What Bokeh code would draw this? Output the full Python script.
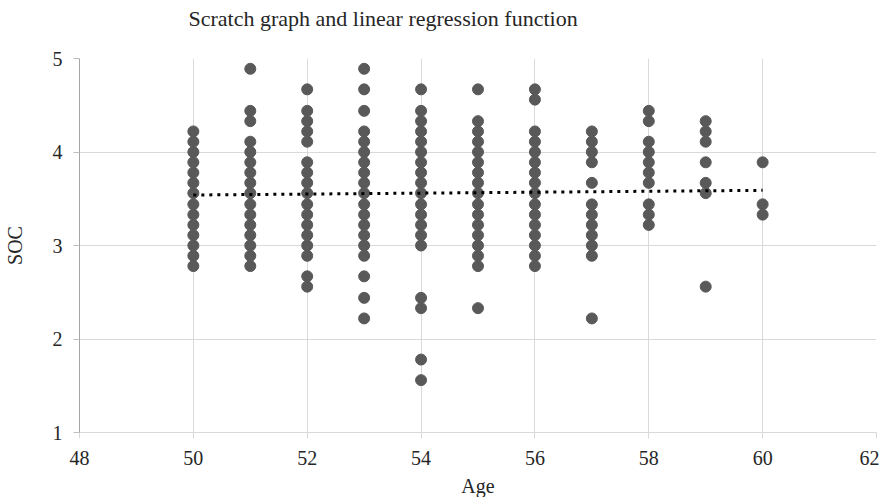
from bokeh.plotting import figure
from bokeh.models import SingleIntervalTicker, ColumnDataSource
from bokeh.embed import file_html
from bokeh.resources import INLINE

# ---- data ----
age_50 = [4.22, 4.11, 4.00, 3.89, 3.78, 3.67, 3.56, 3.44, 3.33, 3.22, 3.11, 3.00, 2.89, 2.78]
age_51 = [4.89, 4.44, 4.33, 4.11, 4.00, 3.89, 3.78, 3.67, 3.56, 3.44, 3.33, 3.22, 3.11, 3.00, 2.89, 2.78]
age_52 = [4.67, 4.44, 4.33, 4.22, 4.11, 3.89, 3.78, 3.67, 3.56, 3.44, 3.33, 3.22, 3.11, 3.00, 2.89, 2.67, 2.56]
age_53 = [4.89, 4.67, 4.44, 4.22, 4.11, 4.00, 3.89, 3.78, 3.67, 3.56, 3.44, 3.33, 3.22, 3.11, 3.00, 2.89,
          2.67, 2.44, 2.22]
age_54 = [4.67, 4.44, 4.33, 4.22, 4.11, 4.00, 3.89, 3.78, 3.67, 3.56, 3.44, 3.33, 3.22, 3.11, 3.00,
          2.44, 2.33, 1.78, 1.56]
age_55 = [4.67, 4.33, 4.22, 4.11, 4.00, 3.89, 3.78, 3.67, 3.56, 3.44, 3.33, 3.22, 3.11, 3.00, 2.89, 2.78, 2.33]
age_56 = [4.67, 4.56, 4.22, 4.11, 4.00, 3.89, 3.78, 3.67, 3.56, 3.44, 3.33, 3.22, 3.11, 3.00, 2.89, 2.78]
age_57 = [4.22, 4.11, 4.00, 3.89, 3.67, 3.44, 3.33, 3.22, 3.11, 3.00, 2.89, 2.22]
age_58 = [4.44, 4.33, 4.11, 4.00, 3.89, 3.78, 3.67, 3.44, 3.33, 3.22]
age_59 = [4.33, 4.22, 4.11, 3.89, 3.67, 3.56, 2.56]
age_60 = [3.89, 3.44, 3.33]

ages = [50, 51, 52, 53, 54, 55, 56, 57, 58, 59, 60]
soc_by_age = [age_50, age_51, age_52, age_53, age_54, age_55, age_56, age_57, age_58, age_59, age_60]

trend_x = [50, 60]
trend_y = [3.54, 3.59]

x_ticks = [48, 50, 52, 54, 56, 58, 60, 62]
y_ticks = [1, 2, 3, 4, 5]

title_text = "Scratch graph and linear regression function"

# ---- build the scatter table ----
xs, ys = [], []
for a, vals in zip(ages, soc_by_age):
    for v in vals:
        xs.append(a)
        ys.append(v)
src = ColumnDataSource(dict(age=xs, soc=ys))

FONT = "Liberation Serif"
TXT = "#262626"

p = figure(frame_width=797, frame_height=374,
           x_range=(x_ticks[0], x_ticks[-1]), y_range=(y_ticks[0], y_ticks[-1]),
           output_backend="svg", toolbar_location=None,
           title=title_text + "\n ",
           min_border_left=71, min_border_right=3, min_border_top=51, min_border_bottom=56)

p.outline_line_color = None
p.background_fill_color = "white"
p.border_fill_color = "white"

p.title.text_font = FONT
p.title.text_font_size = "22px"
p.title.text_font_style = "normal"
p.title.text_color = TXT
p.title.align = "left"
p.title.offset = 109
p.title.standoff = 6

p.scatter("age", "soc", source=src, size=11, color="#595959", line_color="#595959")
p.line(trend_x, trend_y, line_dash="3 5", line_width=3, color="black")

p.xaxis.ticker = SingleIntervalTicker(interval=2)
p.yaxis.ticker = SingleIntervalTicker(interval=1)
p.xgrid.ticker = SingleIntervalTicker(interval=2)
p.ygrid.ticker = SingleIntervalTicker(interval=1)
p.grid.grid_line_color = "#d9d9d9"
p.grid.grid_line_width = 1

for ax in (p.xaxis, p.yaxis):
    ax.major_label_text_font = FONT
    ax.major_label_text_font_size = "20px"
    ax.major_label_text_color = TXT
    ax.axis_label_text_font = FONT
    ax.axis_label_text_font_size = "20px"
    ax.axis_label_text_font_style = "normal"
    ax.axis_label_text_color = TXT
    ax.minor_tick_line_color = None
    ax.major_tick_in = 0
    ax.major_tick_out = 6

p.xaxis.axis_label = "Age"
p.yaxis.axis_label = "SOC"
p.xaxis.axis_line_color = "#d9d9d9"
p.xaxis.major_tick_line_color = "#d9d9d9"
p.yaxis.axis_line_color = "#a6a6a6"
p.yaxis.major_tick_line_color = "#bfbfbf"
p.xaxis.major_label_standoff = 12
p.yaxis.major_label_standoff = 11
p.xaxis.axis_label_standoff = 7
p.yaxis.axis_label_standoff = 24

open("out.html", "w").write(file_html(p, INLINE))
